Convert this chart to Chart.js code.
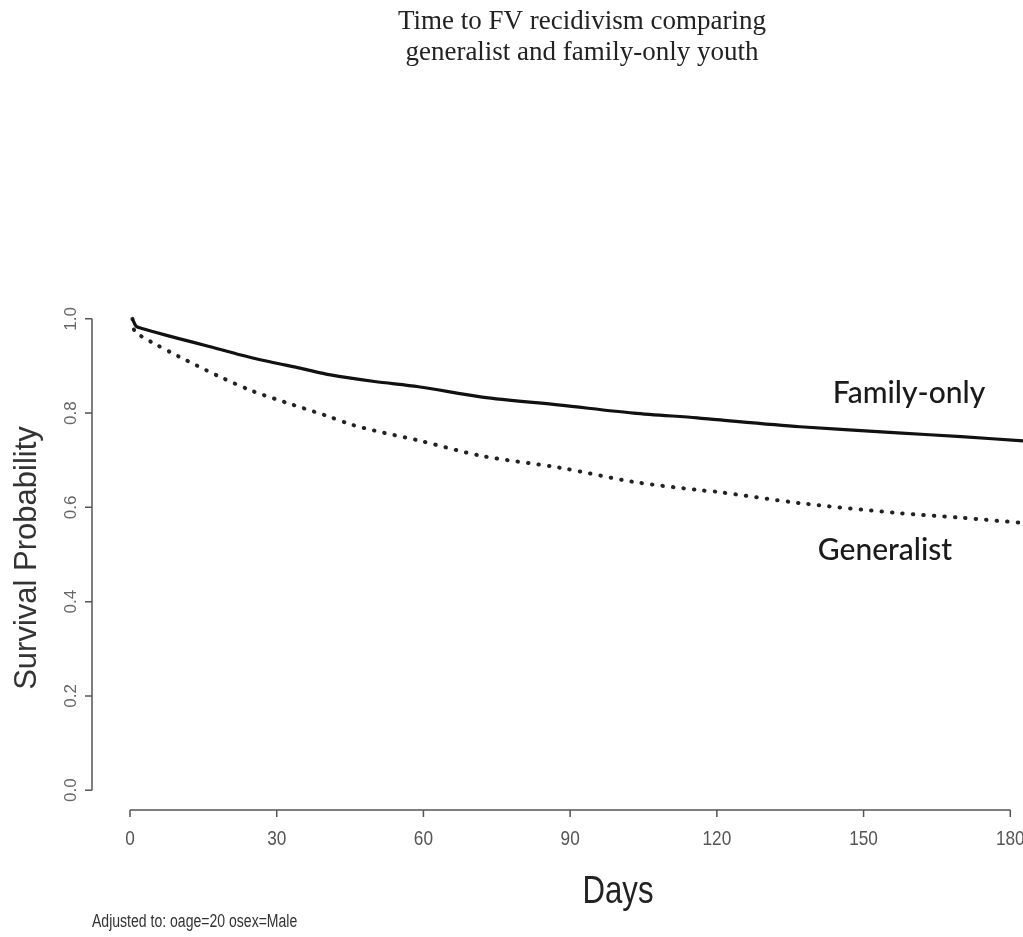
<!DOCTYPE html>
<html>
<head>
<meta charset="utf-8">
<script src="https://cdn.jsdelivr.net/npm/chart.js@4.4.1/dist/chart.umd.min.js"></script>
<style>
  html, body { margin: 0; padding: 0; background: #fff; }
  canvas { display: block; }
</style>
</head>
<body>
<canvas id="survChart" width="1023" height="937"></canvas>
<script>
// Survival curves (day, survival probability)
const familyDays = [0.5, 1.2, 2, 5, 10, 16, 22, 28.6, 35, 41, 50, 59, 72, 88, 103, 116, 120, 137, 157, 170, 182.6];
const familySurv = [1.0, 0.985, 0.981, 0.972, 0.958, 0.942, 0.925, 0.909, 0.895, 0.881, 0.867, 0.856, 0.834, 0.817, 0.800, 0.790, 0.786, 0.771, 0.758, 0.750, 0.741];

const generalDays = [0.5, 1, 2.5, 4.7, 10, 18.4, 25, 32, 40, 45.5, 52, 58.6, 72, 88, 103, 116, 120, 137, 157, 170, 182.6];
const generalSurv = [1.0, 0.972, 0.962, 0.949, 0.92, 0.877, 0.847, 0.822, 0.795, 0.775, 0.758, 0.743, 0.709, 0.684, 0.654, 0.637, 0.633, 0.609, 0.588, 0.578, 0.567];

const xTicks = [0, 30, 60, 90, 120, 150, 180];
const yTicks = [0.0, 0.2, 0.4, 0.6, 0.8, 1.0];

const toPoints = (xs, ys) => xs.map((x, i) => ({ x: x, y: ys[i] }));

// R-style detached axes, titles and curve labels
const rAxes = {
    id: 'rAxes',
    afterDraw(chart) {
        const ctx = chart.ctx;
        const xs = chart.scales.x;
        const ys = chart.scales.y;
        const axisX = 92;
        const axisY = 810;
        ctx.save();
        ctx.strokeStyle = '#555';
        ctx.lineWidth = 1.5;

        // y axis
        ctx.beginPath();
        ctx.moveTo(axisX, ys.getPixelForValue(0));
        ctx.lineTo(axisX, ys.getPixelForValue(1));
        yTicks.forEach(t => {
            const py = ys.getPixelForValue(t);
            ctx.moveTo(axisX, py);
            ctx.lineTo(axisX - 7, py);
        });
        ctx.stroke();

        // x axis
        ctx.beginPath();
        ctx.moveTo(xs.getPixelForValue(0), axisY);
        ctx.lineTo(xs.getPixelForValue(180), axisY);
        xTicks.forEach(t => {
            const px = xs.getPixelForValue(t);
            ctx.moveTo(px, axisY);
            ctx.lineTo(px, axisY + 7);
        });
        ctx.stroke();

        // y tick labels, rotated
        ctx.fillStyle = '#666';
        ctx.textAlign = 'center';
        ctx.textBaseline = 'middle';
        ctx.font = '17px "Liberation Sans", Arial, sans-serif';
        yTicks.forEach(t => {
            ctx.save();
            ctx.translate(71, ys.getPixelForValue(t));
            ctx.rotate(-Math.PI / 2);
            ctx.fillText(t.toFixed(1), 0, 0);
            ctx.restore();
        });

        // x tick labels (condensed)
        ctx.fillStyle = '#555';
        xTicks.forEach(t => {
            ctx.save();
            ctx.translate(xs.getPixelForValue(t), 839);
            ctx.scale(0.82, 1);
            ctx.font = '21px "Liberation Sans", Arial, sans-serif';
            ctx.fillText(String(t), 0, 0);
            ctx.restore();
        });

        // y axis title
        ctx.fillStyle = '#333';
        ctx.save();
        ctx.translate(27, 558);
        ctx.rotate(-Math.PI / 2);
        ctx.font = '31px "Liberation Sans", Arial, sans-serif';
        ctx.fillText('Survival Probability', 0, 0);
        ctx.restore();

        // x axis title
        ctx.fillStyle = '#222';
        ctx.save();
        ctx.translate(618, 893);
        ctx.scale(0.82, 1);
        ctx.font = '38px "Liberation Sans", Arial, sans-serif';
        ctx.fillText('Days', 0, 0);
        ctx.restore();

        // footnote
        ctx.fillStyle = '#333';
        ctx.save();
        ctx.translate(92, 922);
        ctx.scale(0.78, 1);
        ctx.textAlign = 'left';
        ctx.font = '18px "Liberation Sans", Arial, sans-serif';
        ctx.fillText('Adjusted to: oage=20 osex=Male', 0, 0);
        ctx.restore();

        // main title
        ctx.fillStyle = '#222';
        ctx.font = '27px "Liberation Serif", "Times New Roman", serif';
        ctx.fillText('Time to FV recidivism comparing', 582, 22);
        ctx.fillText('generalist and family-only youth', 582, 53);

        // curve labels
        ctx.fillStyle = '#1a1a1a';
        ctx.font = '500 30px Lato, "Open Sans", sans-serif';
        ctx.fillText('Family-only', 909, 393);
        ctx.fillText('Generalist', 885, 550);

        ctx.restore();
    }
};

const ctx = document.getElementById('survChart').getContext('2d');
new Chart(ctx, {
    type: 'line',
    data: {
        datasets: [{
            label: 'Family-only',
            data: toPoints(familyDays, familySurv),
            borderColor: '#111',
            borderWidth: 3.2,
            pointRadius: 0,
            tension: 0.3,
            fill: false
        }, {
            label: 'Generalist',
            data: toPoints(generalDays, generalSurv),
            borderColor: '#222',
            borderWidth: 4,
            borderDash: [0.5, 10],
            borderCapStyle: 'round',
            pointRadius: 0,
            tension: 0.3,
            fill: false
        }]
    },
    options: {
        responsive: false,
        animation: false,
        layout: {
            padding: { left: 130, right: 0, top: 300, bottom: 128 }
        },
        scales: {
            x: {
                type: 'linear',
                min: 0,
                max: 182.6,
                display: false
            },
            y: {
                min: -0.04,
                max: 1.04,
                display: false
            }
        },
        plugins: {
            legend: { display: false },
            tooltip: { enabled: false }
        }
    },
    plugins: [rAxes]
});
</script>
</body>
</html>
